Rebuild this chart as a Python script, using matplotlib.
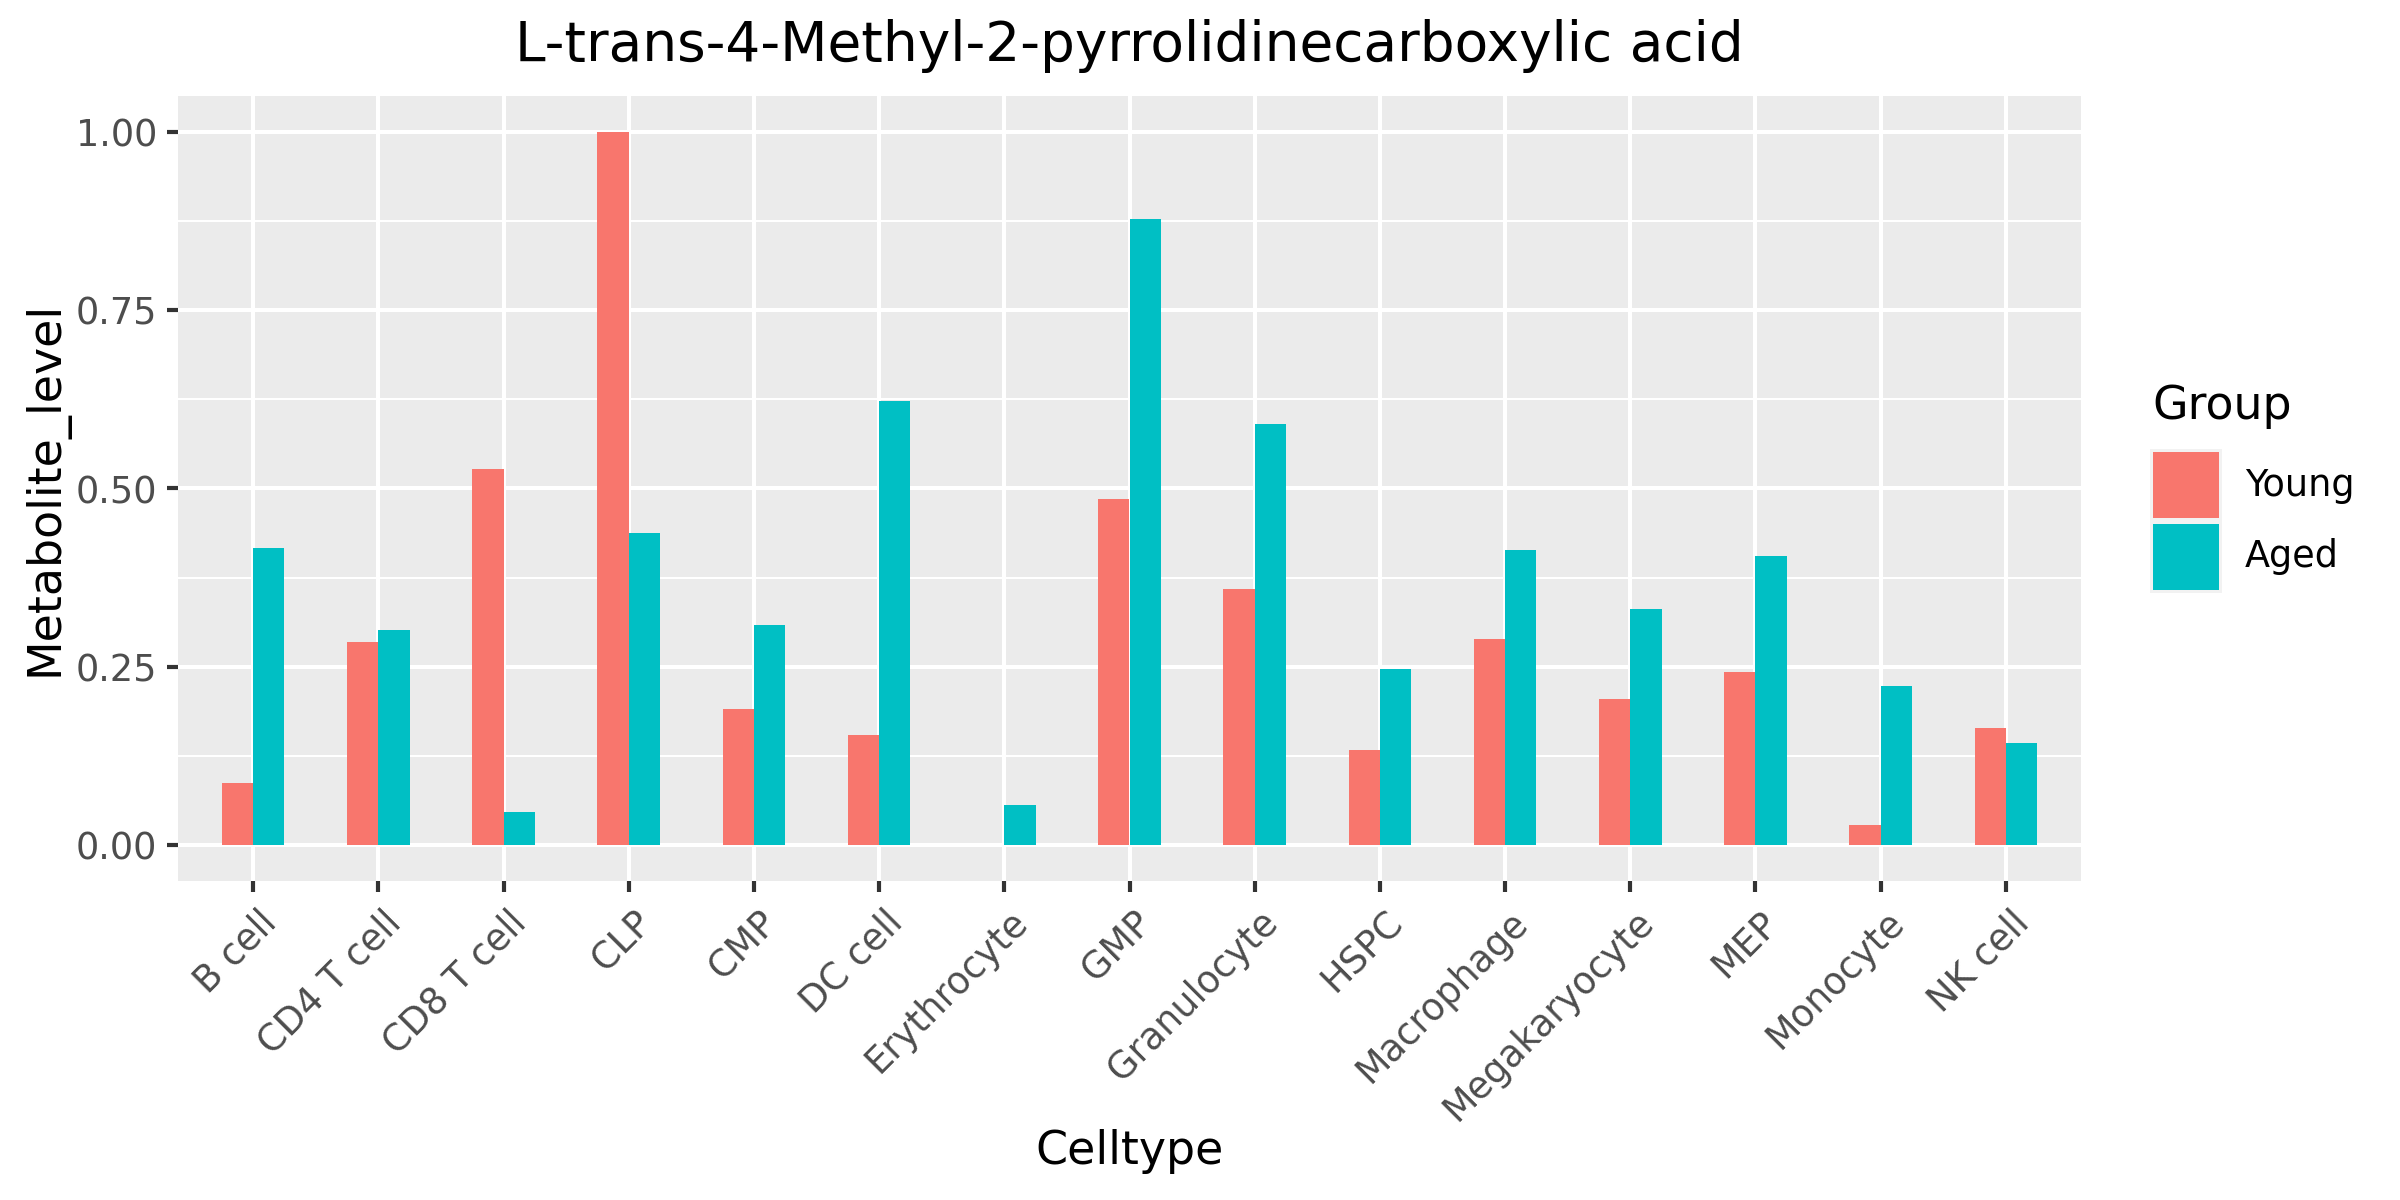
import matplotlib
matplotlib.use("Agg")
import matplotlib.pyplot as plt
from matplotlib.patches import Rectangle
from matplotlib.transforms import ScaledTranslation
import numpy as np

celltypes = ["B cell", "CD4 T cell", "CD8 T cell", "CLP", "CMP", "DC cell", "Erythrocyte",
             "GMP", "Granulocyte", "HSPC", "Macrophage", "Megakaryocyte", "MEP", "Monocyte", "NK cell"]
young = [0.087, 0.285, 0.528, 1.000, 0.191, 0.155, np.nan, 0.485, 0.359, 0.134, 0.289, 0.205, 0.243, 0.029, 0.164]
aged = [0.416, 0.302, 0.046, 0.438, 0.309, 0.622, 0.056, 0.878, 0.591, 0.247, 0.414, 0.331, 0.406, 0.223, 0.143]
groups = ["Young", "Aged"]
colors = ["#F8766D", "#00BFC4"]
yticks = [0.0, 0.25, 0.5, 0.75, 1.0]
yticklabels = ["0.00", "0.25", "0.50", "0.75", "1.00"]

plt.rcParams['font.family'] = ['DejaVu Sans']
W, H = 2400, 1200
fig = plt.figure(figsize=(8, 4), dpi=300)

def px(x0, y0, x1, y1):
    return [x0 / W, 1 - y1 / H, (x1 - x0) / W, (y1 - y0) / H]

ax = fig.add_axes(px(178, 96, 2081, 881))
ax.set_facecolor("#EBEBEB")
for s in ax.spines.values():
    s.set_visible(False)

x = np.arange(len(celltypes))
bw = 0.25
ax.bar(x - bw / 2, young, width=bw, color=colors[0], linewidth=0, zorder=3)
ax.bar(x + bw / 2, aged, width=bw, color=colors[1], linewidth=0, zorder=3)

ax.set_xlim(-0.6, len(celltypes) - 0.4)
ax.set_ylim(-0.05, 1.05)
ax.set_yticks(yticks)
ax.set_yticklabels(yticklabels)
ax.set_yticks([0.125, 0.375, 0.625, 0.875], minor=True)
ax.set_xticks(x)
ax.set_xticklabels(celltypes, rotation=45, ha="right", va="top", rotation_mode="anchor")
ax.grid(True, which="major", color="white", linewidth=0.96, zorder=0)
ax.grid(True, which="minor", axis="y", color="white", linewidth=0.5, zorder=0)
ax.set_axisbelow(True)
ax.tick_params(axis="both", which="major", length=2.75, width=1.0, color="#333333",
               labelsize=8.8, labelcolor="#4D4D4D", pad=2.2)
ax.tick_params(axis="both", which="minor", length=0)

off = ScaledTranslation(1 / 72, -0.5 / 72, fig.dpi_scale_trans)
for lab in ax.get_xticklabels():
    lab.set_transform(lab.get_transform() + off)

ax.set_xlabel("Celltype", fontsize=11, color="black")
ax.xaxis.set_label_coords(0.5, (881 - 1151) / (881 - 96) , transform=ax.transAxes)
ax.xaxis.label.set_va("center")
ax.set_ylabel("Metabolite_level", fontsize=11, color="black")
ax.yaxis.set_label_coords((46 - 178) / (2081 - 178), 0.5)
ax.yaxis.label.set_va("center")

fig.text((178 + 2081) / 2 / W, 1 - 46 / H, "L-trans-4-Methyl-2-pyrrolidinecarboxylic acid",
         fontsize=13.2, ha="center", va="center", color="black")

# legend
fig.text(2152 / W, 1 - 407 / H, "Group", fontsize=11, ha="left", va="center")
key_y = [449, 521]
for i, (g, c) in enumerate(zip(groups, colors)):
    y0 = key_y[i]
    fig.add_artist(Rectangle((2150 / W, 1 - (y0 + 72) / H), 72 / W, 72 / H,
                             transform=fig.transFigure, facecolor="#F2F2F2", edgecolor="none"))
    fig.add_artist(Rectangle((2153 / W, 1 - (y0 + 69) / H), 66 / W, 66 / H,
                             transform=fig.transFigure, facecolor=c, edgecolor="none"))
    fig.text(2245 / W, 1 - (y0 + 36) / H, g, fontsize=8.8, ha="left", va="center")

fig.savefig("out.png", dpi=300, facecolor="white")
